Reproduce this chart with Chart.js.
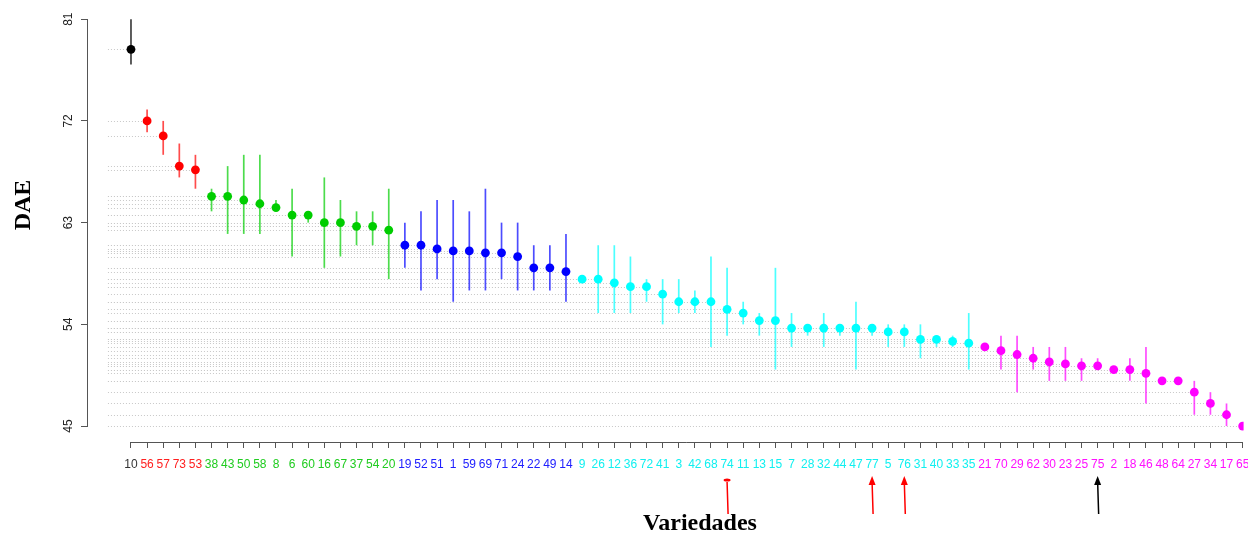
<!DOCTYPE html>
<html lang="es">
<head>
    <meta charset="UTF-8">
    <title>DAE por variedades</title>
    <script src="https://cdn.jsdelivr.net/npm/chart.js"></script>
    <style>
        body { margin: 0; background: #fff; }
        .chart-container { position: relative; width: 1248px; height: 534px; }
    </style>
</head>
<body>
    <div class="chart-container">
        <canvas id="myChart"></canvas>
    </div>

    <script>
        // Datos
        const varieties = ['10','56','57','73','53','38','43','50','58','8','6','60','16','67','37','54','20',
            '19','52','51','1','59','69','71','24','22','49','14',
            '9','26','12','36','72','41','3','42','68','74','11','13','15','7','28','32','44','47','77','5','76','31','40','33','35',
            '21','70','29','62','30','23','25','75','2','18','46','48','64','27','34','17','65'];
        const groupSizes = [1, 4, 12, 11, 25, 17];
        const groupColors = ['#000000', '#ff0000', '#00cd00', '#0000ff', '#00ffff', '#ff00ff'];
        const labelColors = ['#333333', '#ff2020', '#20cc20', '#2020ff', '#10f0f0', '#ff10ff'];

        const dae = [78.33, 72.0, 70.67, 68.0, 67.67, 65.33, 65.33, 65.0, 64.67, 64.33, 63.67, 63.67, 63.0, 63.0, 62.67, 62.67, 62.33,
            61.0, 61.0, 60.67, 60.5, 60.5, 60.33, 60.33, 60.0, 59.0, 59.0, 58.67,
            58.0, 58.0, 57.67, 57.33, 57.33, 56.67, 56.0, 56.0, 56.0, 55.33, 55.0, 54.33, 54.33, 53.67, 53.67, 53.67, 53.67, 53.67, 53.67, 53.33, 53.33, 52.67, 52.67, 52.5, 52.33,
            52.0, 51.67, 51.33, 51.0, 50.67, 50.5, 50.33, 50.33, 50.0, 50.0, 49.67, 49.0, 49.0, 48.0, 47.0, 46.0, 45.0];
        const lower = [77, 71, 69, 67, 66, 64, 62, 62, 62, 64, 60, 63, 59, 60, 61, 61, 58,
            59, 57, 58, 56, 57, 57, 58, 57, 57, 57, 56,
            null, 55, 55, 55, 56, 54, 55, 55, 52, 53, 54, 53, 50, 52, 53, 52, 53, 50, 53, 52, 52, 51, 52, 52, 50,
            null, 50, 48, 50, 49, 49, 49, 50, null, 49, 47, null, null, 46, 46, 45, null];
        const upper = [81, 73, 72, 70, 69, 66, 68, 69, 69, 65, 66, 64, 67, 65, 64, 64, 66,
            63, 64, 65, 65, 64, 66, 63, 63, 61, 61, 62,
            null, 61, 61, 60, 58, 58, 58, 57, 60, 59, 56, 55, 59, 55, 54, 55, 54, 56, 54, 54, 54, 54, 53, 53, 55,
            null, 53, 53, 52, 52, 52, 51, 51, null, 51, 52, null, null, 49, 48, 47, null];
        const yTicks = [45, 54, 63, 72, 81];

        // Flechas bajo el eje x
        const arrowVarieties = ['74', '77', '76', '75'];
        const arrowColors = ['#ff0000', '#ff0000', '#ff0000', '#000000'];

        const groupOf = [];
        groupSizes.forEach((n, g) => { for (let i = 0; i < n; i++) groupOf.push(g); });

        const points = dae.map((v, i) => ({ x: i, y: v }));
        const font = 'Arial, "Liberation Sans", sans-serif';

        function withAlpha(hex, a) {
            const r = parseInt(hex.slice(1, 3), 16), g = parseInt(hex.slice(3, 5), 16), b = parseInt(hex.slice(5, 7), 16);
            return `rgba(${r},${g},${b},${a})`;
        }

        const extras = {
            id: 'extras',
            beforeDatasetsDraw(chart) {
                const { ctx, scales: { x, y } } = chart;
                const x0 = x.getPixelForValue(-1.43);
                ctx.save();
                // lineas punteadas grises
                ctx.strokeStyle = '#c8c8c8';
                ctx.lineWidth = 1;
                ctx.setLineDash([1, 2]);
                dae.forEach((v, i) => {
                    const py = Math.round(y.getPixelForValue(v)) + 0.5;
                    ctx.beginPath();
                    ctx.moveTo(x0, py);
                    ctx.lineTo(x.getPixelForValue(i), py);
                    ctx.stroke();
                });
                ctx.setLineDash([]);
                // barras de error
                ctx.lineWidth = 1.7;
                dae.forEach((v, i) => {
                    if (lower[i] === null) return;
                    const px = x.getPixelForValue(i);
                    ctx.strokeStyle = withAlpha(groupColors[groupOf[i]], groupOf[i] === 0 ? 0.75 : 0.7);
                    ctx.beginPath();
                    ctx.moveTo(px, y.getPixelForValue(upper[i]));
                    ctx.lineTo(px, y.getPixelForValue(lower[i]));
                    ctx.stroke();
                });
                ctx.restore();
            },
            afterDraw(chart) {
                const { ctx, scales: { x, y } } = chart;
                ctx.save();
                // ejes estilo R
                ctx.strokeStyle = '#555';
                ctx.lineWidth = 1;
                const ax = Math.round(x.left) - 0.5;
                ctx.beginPath();
                ctx.moveTo(ax, y.getPixelForValue(yTicks[0]));
                ctx.lineTo(ax, y.getPixelForValue(yTicks[yTicks.length - 1]));
                ctx.stroke();
                const ay = Math.round(y.bottom) + 0.5;
                ctx.beginPath();
                ctx.moveTo(x.getPixelForValue(0), ay);
                ctx.lineTo(x.getPixelForValue(varieties.length - 1), ay);
                ctx.stroke();

                // titulos
                ctx.fillStyle = '#000';
                ctx.font = 'bold 24px "Liberation Serif", "Times New Roman", serif';
                ctx.textAlign = 'center';
                ctx.textBaseline = 'alphabetic';
                ctx.fillText('Variedades', 700, 530);
                ctx.save();
                ctx.translate(30, 205);
                ctx.rotate(-Math.PI / 2);
                ctx.fillText('DAE', 0, 0);
                ctx.restore();

                // flechas
                arrowVarieties.forEach((name, k) => {
                    const px = x.getPixelForValue(varieties.indexOf(name));
                    ctx.strokeStyle = arrowColors[k];
                    ctx.fillStyle = arrowColors[k];
                    ctx.lineWidth = 1.5;
                    ctx.beginPath();
                    ctx.moveTo(px + 1, 514);
                    ctx.lineTo(px, 482);
                    ctx.stroke();
                    ctx.beginPath();
                    if (k === 0) {
                        ctx.ellipse(px, 480, 3.5, 1.6, 0, 0, Math.PI * 2);
                    } else {
                        ctx.moveTo(px, 476);
                        ctx.lineTo(px - 3.5, 485);
                        ctx.lineTo(px + 3.5, 485);
                        ctx.closePath();
                    }
                    ctx.fill();
                });
                ctx.restore();
            }
        };

        const ctx = document.getElementById('myChart').getContext('2d');
        const chart = new Chart(ctx, {
            type: 'scatter',
            data: {
                datasets: [{
                    label: 'DAE',
                    data: points,
                    pointRadius: 4.4,
                    pointHoverRadius: 4.4,
                    pointBorderWidth: 0,
                    pointBackgroundColor: groupOf.map(g => groupColors[g]),
                    pointBorderColor: groupOf.map(g => groupColors[g])
                }]
            },
            options: {
                responsive: true,
                maintainAspectRatio: false,
                animation: false,
                layout: { padding: { top: 12, right: 2, left: 0, bottom: 0 } },
                plugins: {
                    legend: { display: false },
                    tooltip: { enabled: false }
                },
                scales: {
                    x: {
                        type: 'linear',
                        min: -2.668,
                        max: 69.06,
                        afterBuildTicks: s => { s.ticks = varieties.map((_, i) => ({ value: i })); },
                        afterFit: s => { s.height = 92; s.paddingLeft = 0; s.paddingRight = 0; },
                        border: { display: false },
                        grid: { drawOnChartArea: false, tickLength: 6, tickColor: '#555' },
                        ticks: {
                            autoSkip: false,
                            maxRotation: 0,
                            minRotation: 0,
                            padding: 9,
                            font: { family: font, size: 12 },
                            color: c => labelColors[groupOf[c.index]],
                            callback: v => varieties[v]
                        }
                    },
                    y: {
                        min: 43.59,
                        max: 81.53,
                        afterBuildTicks: s => { s.ticks = yTicks.map(v => ({ value: v })); },
                        afterFit: s => { s.width = 88; },
                        border: { display: false },
                        grid: { drawOnChartArea: false, tickLength: 7, tickColor: '#555' },
                        ticks: {
                            minRotation: 90,
                            maxRotation: 90,
                            crossAlign: 'center',
                            padding: 6,
                            font: { family: font, size: 12 },
                            color: '#222'
                        }
                    }
                }
            },
            plugins: [extras]
        });
    </script>
</body>
</html>
